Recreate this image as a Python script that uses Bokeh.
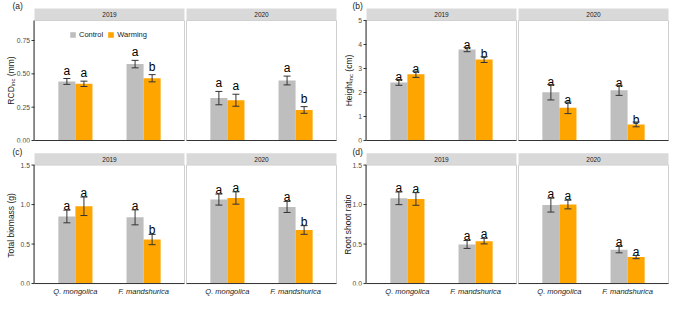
from bokeh.plotting import figure
from bokeh.layouts import row, column
from bokeh.models import (Range1d, FixedTicker, Whisker, TeeHead, ColumnDataSource,
                          Legend, LegendItem)
from bokeh.core.properties import value
from bokeh.embed import file_html
from bokeh.resources import INLINE
import math

# ---------------- data ----------------
species = ["Q. mongolica", "F. mandshurica"]
years = ["2019", "2020"]
treatments = ["Control", "Warming"]
panel_tags = ["(a)", "(b)", "(c)", "(d)"]

# order of values: 2019 Q, 2019 F, 2020 Q, 2020 F
rcd_control = [0.443, 0.573, 0.318, 0.450]
rcd_control_se = [0.022, 0.028, 0.050, 0.033]
rcd_warming = [0.425, 0.467, 0.302, 0.229]
rcd_warming_se = [0.020, 0.027, 0.045, 0.025]
rcd_letters_control = ["a", "a", "a", "a"]
rcd_letters_warming = ["a", "b", "a", "b"]
rcd_ticks = [0, 0.25, 0.5, 0.75]
rcd_tick_labels = ["0.00", "0.25", "0.50", "0.75"]

height_control = [2.42, 3.79, 2.01, 2.09]
height_control_se = [0.12, 0.09, 0.32, 0.21]
height_warming = [2.76, 3.37, 1.36, 0.67]
height_warming_se = [0.13, 0.12, 0.24, 0.10]
height_letters_control = ["a", "a", "a", "a"]
height_letters_warming = ["a", "b", "a", "b"]
height_ticks = [0, 1, 2, 3, 4, 5]
height_tick_labels = ["0", "1", "2", "3", "4", "5"]

biomass_control = [0.849, 0.838, 1.063, 0.970]
biomass_control_se = [0.080, 0.095, 0.070, 0.070]
biomass_warming = [0.978, 0.557, 1.083, 0.678]
biomass_warming_se = [0.117, 0.065, 0.078, 0.055]
biomass_letters_control = ["a", "a", "a", "a"]
biomass_letters_warming = ["a", "b", "a", "b"]
biomass_ticks = [0, 0.5, 1.0, 1.5]
biomass_tick_labels = ["0.0", "0.5", "1.0", "1.5"]

rs_control = [1.079, 0.495, 0.993, 0.429]
rs_control_se = [0.080, 0.050, 0.088, 0.040]
rs_warming = [1.071, 0.537, 1.000, 0.335]
rs_warming_se = [0.080, 0.035, 0.055, 0.020]
rs_letters_control = ["a", "a", "a", "a"]
rs_letters_warming = ["a", "a", "a", "a"]
rs_ticks = [0, 0.5, 1.0, 1.5]
rs_tick_labels = ["0.0", "0.5", "1.0", "1.5"]

# ---------------- style ----------------
FONT = "Liberation Sans"
GRAY = "#BEBEBE"
ORANGE = "#FFA500"
STRIP = "#D9D9D9"
BORDER = "#D0D0D0"
AXIS = "#333333"
TICKTXT = "#4D4D4D"
DARK = "#1A1A1A"

TITLE_PX = 8.5
SUB_PX = 6.0
XLAB_PX = 7.5
TICK_PX = 6.8
ARIAL = {"R": .722, "C": .722, "D": .722, "i": .222, "n": .556, "c": .5, " ": .278,
         "(": .333, ")": .333, "m": .833, "H": .722, "e": .556, "g": .556, "h": .556,
         "t": .278}


def text_w(s, px):
    return sum(ARIAL.get(ch, 0.55) for ch in s) * px


specs = [
    dict(tag=panel_tags[0], c=rcd_control, cse=rcd_control_se, w=rcd_warming, wse=rcd_warming_se,
         lc=rcd_letters_control, lw=rcd_letters_warming, ymax=0.9, ticks=rcd_ticks,
         tlab=rcd_tick_labels,
         ylab=[("RCD", False, 0), ("inc", True, 0), ("(mm)", False, 1)],
         off=8, lw_px=34, tag_x=12, lab_x=10, top=True, legend=True),
    dict(tag=panel_tags[1], c=height_control, cse=height_control_se, w=height_warming,
         wse=height_warming_se, lc=height_letters_control, lw=height_letters_warming, ymax=5,
         ticks=height_ticks, tlab=height_tick_labels,
         ylab=[("Height", False, 0), ("inc", True, 0), ("(cm)", False, 1)],
         off=2.5, lw_px=29, tag_x=15, lab_x=11, top=True, legend=False),
    dict(tag=panel_tags[2], c=biomass_control, cse=biomass_control_se, w=biomass_warming,
         wse=biomass_warming_se, lc=biomass_letters_control, lw=biomass_letters_warming,
         ymax=1.5, ticks=biomass_ticks, tlab=biomass_tick_labels,
         ylab=[("Total biomass (g)", False, 0)], off=4, lw_px=34, tag_x=12, lab_x=10,
         top=False, legend=False),
    dict(tag=panel_tags[3], c=rs_control, cse=rs_control_se, w=rs_warming, wse=rs_warming_se,
         lc=rs_letters_control, lw=rs_letters_warming, ymax=1.5, ticks=rs_ticks,
         tlab=rs_tick_labels, ylab=[("Root shoot ratio", False, 0)], off=4, lw_px=29,
         tag_x=15, lab_x=10, top=False, legend=False),
]

FW = 150          # facet width, px
GAP = 2           # gap between facets, px
DW = 0.25         # bar width (data units)
PPU = FW / 2.2    # px per x unit


def panel(spec):
    top = spec["top"]
    plot_h = 120 if top else 121
    fh = plot_h + 12          # plot area + strip
    tb = 8 if top else 9      # space above strip
    bb = 4 if top else 12     # space below plot area
    ymax = spec["ymax"]
    ytop = ymax * fh / plot_h
    upp = ytop / fh           # y units per px
    LW = spec["lw_px"]
    D = 2.2 + GAP / PPU       # x shift of the second facet
    x0 = 0.4 - LW / PPU
    x1 = 2.6 + D + 1 / PPU
    width = LW + FW + GAP + FW + 1
    height = tb + fh + bb

    p = figure(width=width, height=height,
               x_range=Range1d(x0, x1), y_range=Range1d(-2 * upp, ytop + tb * upp),
               output_backend="svg", toolbar_location=None, title_location=None,
               y_axis_location=None, x_axis_location=None if top else "below",
               min_border_left=0, min_border_right=0, min_border_top=0,
               min_border_bottom=bb - 2)
    p.grid.visible = False
    p.outline_line_color = None

    lefts = [0.4 + yi * D for yi in range(len(years))]
    rights = [2.6 + yi * D for yi in range(len(years))]

    # x axis labels (bottom row only)
    if not top:
        xa = p.xaxis[0]
        tick_pos = [k + 1 + yi * D for yi in range(len(years)) for k in range(len(species))]
        xa.ticker = FixedTicker(ticks=tick_pos)
        xa.major_label_overrides = {t: species[i % len(species)] for i, t in enumerate(tick_pos)}
        xa.axis_line_color = None
        xa.major_tick_line_color = None
        xa.minor_tick_line_color = None
        xa.major_tick_out = 0
        xa.major_tick_in = 0
        xa.major_label_standoff = 1
        xa.major_label_text_font_size = f"{XLAB_PX}px"
        xa.major_label_text_font_style = "italic"
        xa.major_label_text_font = FONT
        xa.major_label_text_color = DARK

    # strips
    p.quad(left=lefts, right=rights, bottom=[ymax] * 2, top=[ytop] * 2,
           fill_color=STRIP, line_color=None)
    p.text(x=[(l + r) / 2 for l, r in zip(lefts, rights)], y=[(ymax + ytop) / 2] * 2,
           text=years, text_align="center", text_baseline="middle", text_font=value(FONT),
           text_font_size="6.5px", text_color=DARK)

    renderers = {}
    for yi in range(len(years)):
        idx = [2 * yi, 2 * yi + 1]
        xc = [k + 1 - DW / 2 + yi * D for k in range(len(species))]
        xw = [k + 1 + DW / 2 + yi * D for k in range(len(species))]
        cvals = [spec["c"][i] for i in idx]
        cse = [spec["cse"][i] for i in idx]
        wvals = [spec["w"][i] for i in idx]
        wse = [spec["wse"][i] for i in idx]
        rc = p.vbar(x=xc, top=cvals, bottom=0, width=DW, fill_color=GRAY, line_color=None)
        rw = p.vbar(x=xw, top=wvals, bottom=0, width=DW, fill_color=ORANGE, line_color=None)
        if yi == 0:
            renderers = {"c": rc, "w": rw}
        for xs, vals, ses, letters in ((xc, cvals, cse, [spec["lc"][i] for i in idx]),
                                       (xw, wvals, wse, [spec["lw"][i] for i in idx])):
            src = ColumnDataSource(dict(base=xs, upper=[v + s for v, s in zip(vals, ses)],
                                        lower=[v - s for v, s in zip(vals, ses)]))
            wk = Whisker(source=src, base="base", upper="upper", lower="lower",
                         dimension="height", line_color=AXIS, line_width=1,
                         upper_head=TeeHead(size=7, line_color=AXIS, line_width=1),
                         lower_head=TeeHead(size=7, line_color=AXIS, line_width=1),
                         level="overlay")
            p.add_layout(wk)
            p.text(x=xs, y=[v + s for v, s in zip(vals, ses)], text=letters,
                   text_align="center", text_baseline="alphabetic", y_offset=-spec["off"],
                   text_font=value(FONT), text_font_size="12px", text_color="#000000")

    # facet borders
    p.quad(left=lefts, right=rights, bottom=[0] * 2, top=[ymax] * 2, fill_color=None,
           line_color=BORDER, line_width=1)
    # x axis lines
    p.segment(x0=lefts, x1=rights, y0=[0] * 2, y1=[0] * 2, line_color=AXIS, line_width=1)

    # y axis: line, ticks, labels
    xl = 0.4 - 0.5 / PPU
    p.segment(x0=[xl], x1=[xl], y0=[0], y1=[ymax], line_color=AXIS, line_width=1)
    n = len(spec["ticks"])
    p.segment(x0=[0.4 - 3 / PPU] * n, x1=[0.4] * n, y0=spec["ticks"], y1=spec["ticks"],
              line_color=AXIS, line_width=1)
    p.text(x=[0.4 - 4.5 / PPU] * n, y=spec["ticks"], text=spec["tlab"], text_align="right",
           text_baseline="middle", text_font=value(FONT), text_font_size=f"{TICK_PX}px",
           text_color=TICKTXT)

    # panel tag
    p.text(x=[x0 + spec["tag_x"] / PPU], y=[ytop + (2.8 if top else 1.5) * upp],
           text=[spec["tag"]], text_align="left", text_baseline="middle",
           text_font=value(FONT), text_font_size="8.5px", text_color=DARK)

    # y-axis title (pieces, subscript allowed; gap = number of spaces before piece)
    pieces = spec["ylab"]
    space_w = text_w(" ", TITLE_PX)
    total = sum(text_w(s, SUB_PX if sub else TITLE_PX) + g * space_w for s, sub, g in pieces)
    cum = 0.0
    for s, sub, g in pieces:
        px = SUB_PX if sub else TITLE_PX
        cum += g * space_w
        p.text(x=[x0 + (spec["lab_x"] + (2 if sub else 0)) / PPU],
               y=[ymax / 2 + (cum - total / 2) * upp], text=[s], angle=math.pi / 2,
               text_align="left", text_baseline="alphabetic", text_font=value(FONT),
               text_font_size=f"{px}px", text_color=DARK)
        cum += text_w(s, px)

    if spec["legend"]:
        legend = Legend(items=[LegendItem(label=treatments[0], renderers=[renderers["c"]]),
                               LegendItem(label=treatments[1], renderers=[renderers["w"]])],
                        location=(LW + 35, plot_h - 17), orientation="horizontal",
                        glyph_width=7, glyph_height=7, label_height=7, label_width=10,
                        label_standoff=3, spacing=4, padding=0, margin=0,
                        border_line_color=None, background_fill_alpha=0,
                        label_text_font=FONT, label_text_font_size=f"{XLAB_PX}px",
                        label_text_color=DARK)
        p.add_layout(legend)
    return p


layout = column(row(panel(specs[0]), panel(specs[1])),
                row(panel(specs[2]), panel(specs[3])))

open("out.html", "w").write(file_html(layout, INLINE))
